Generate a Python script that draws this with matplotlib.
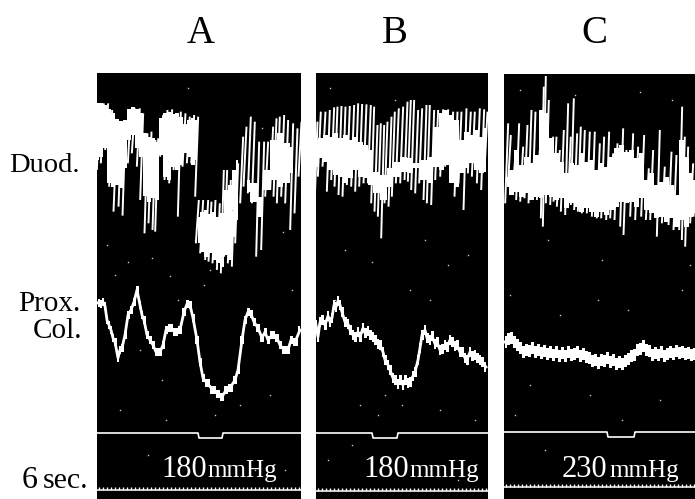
import numpy as np
import matplotlib
matplotlib.use("Agg")
import matplotlib.pyplot as plt

W, H = 695, 499
SERIF = ["Liberation Serif", "DejaVu Serif"]

a_spike_x = [25, 37, 50, 62, 75, 90, 102, 118, 130, 145, 155, 168, 180, 192, 200, 215, 228, 242, 255, 268, 282, 295, 308, 320,
             322, 335, 350, 360, 372, 385, 397, 407, 418, 430, 440, 455, 465, 478, 490, 503, 518, 530, 545, 555, 565, 578, 590, 605, 618, 630]
a_spike_top = [100, 100, 100, 120, 200, 160, 160, 120, 115, 115, 130, 190, 185, 210, 205, 135, 120, 118, 130, 125, 130, 140, 135, 140,
               390, 390, 390, 395, 390, 400, 300, 300, 330, 310, 280, 200, 170, 140, 155, 215, 215, 215, 170, 145, 140, 135, 150, 160, 175, 155]
a_spike_bot = [300, 280, 240, 350, 425, 410, 437, 280, 250, 290, 390, 490, 460, 480, 485, 260, 330, 340, 300, 440, 290, 280, 280, 380,
               520, 550, 570, 575, 580, 600, 610, 560, 580, 590, 520, 400, 350, 370, 400, 560, 540, 380, 360, 380, 400, 380, 400, 480, 430, 320]

b_spike_x = [18, 28, 42, 55, 68, 78, 90, 102, 115, 128, 140, 152, 165, 178, 188, 198, 208, 218, 228, 240, 250, 262, 275, 288, 298, 308,
             320, 332, 345, 355, 368, 380, 395, 410, 425, 438, 450, 465, 478, 490, 505, 518, 528]
b_spike_top = [155, 125, 125, 120, 112, 110, 108, 110, 108, 105, 100, 102, 103, 105, 110, 165, 160, 165, 155, 140, 125, 115, 110, 95, 90, 90,
               120, 115, 105, 105, 120, 120, 118, 118, 125, 125, 125, 115, 125, 125, 115, 118, 125]
b_spike_bot = [410, 320, 290, 365, 330, 350, 375, 380, 345, 350, 365, 350, 340, 340, 400, 425, 440, 505, 400, 410, 380, 340, 340, 330, 335, 360,
               370, 340, 390, 400, 405, 330, 320, 290, 330, 380, 340, 420, 310, 320, 340, 360, 300]

c_spike_x = [590, 598, 612, 623, 635, 648, 660, 672, 685, 697, 703, 712, 725, 735, 745, 757, 770, 778, 787, 797, 808, 820, 835, 850,
             865, 878, 893, 905, 918, 935, 945, 965, 980, 998, 1012, 1025, 1045, 1060, 1080, 1095, 1112, 1120, 1130, 1145, 1155]
c_spike_top = [160, 195, 250, 160, 230, 165, 120, 125, 240, 50, 18, 90, 200, 200, 240, 180, 100, 200, 85, 190, 170, 180, 185, 185,
               220, 200, 185, 250, 220, 175, 240, 190, 230, 195, 295, 240, 180, 290, 245, 255, 110, 200, 230, 280, 310]
c_spike_bot = [400, 350, 375, 390, 395, 385, 400, 390, 390, 445, 470, 400, 405, 395, 410, 425, 435, 400, 405, 420, 425, 430, 430, 440,
               445, 445, 450, 445, 450, 470, 495, 440, 450, 440, 450, 450, 500, 460, 465, 480, 480, 510, 530, 460, 440]

# Solid part of the duodenal trace, same crops
a_band_x = [22, 34, 46, 58, 70, 82, 94, 106, 118, 130, 142, 154, 166, 178, 190, 202, 214, 226, 238, 250, 262, 274, 286, 298, 310, 320]
a_band_top = [100, 98, 104, 118, 130, 148, 152, 150, 118, 112, 116, 128, 190, 200, 205, 215, 145, 130, 125, 132, 130, 140, 162, 150, 145, 150]
a_band_bot = [270, 262, 235, 340, 352, 345, 355, 295, 210, 195, 235, 262, 378, 395, 385, 390, 255, 320, 330, 290, 300, 285, 250, 260, 285, 270]
a_band2_x = [325, 337, 349, 361, 373, 385, 397, 409, 421, 433, 445]
a_band2_top = [440, 425, 420, 432, 425, 440, 430, 360, 345, 300, 270]
a_band2_bot = [520, 545, 560, 550, 570, 580, 590, 555, 570, 500, 450]
a_band3_x = [470, 490, 510, 530, 550, 570, 590, 610]
a_band3_top = [330, 340, 380, 300, 210, 190, 220, 230]
a_band3_bot = [365, 395, 440, 360, 330, 350, 340, 310]

b_band_x = [15, 30, 45, 60, 75, 90, 105, 120, 135, 150, 165, 180, 200, 220, 240, 260, 280, 300, 320, 340, 360, 380, 395, 410, 425, 440, 455, 470, 485, 500, 515, 528]
b_band_top = [210, 205, 195, 200, 190, 205, 195, 210, 200, 215, 225, 240, 305, 315, 295, 275, 260, 265, 280, 270, 260, 170, 130, 120, 135, 150, 210, 185, 195, 180, 200, 175]
b_band_bot = [290, 265, 275, 300, 315, 320, 340, 325, 300, 320, 325, 345, 370, 390, 350, 320, 305, 310, 295, 330, 340, 290, 300, 285, 340, 350, 310, 295, 280, 300, 310, 305]

c_band_x = [590, 605, 620, 635, 650, 665, 680, 695, 710, 725, 740, 755, 770, 785, 800, 815, 830, 845, 860, 875, 890, 905, 920, 935, 950,
            965, 980, 995, 1010, 1025, 1040, 1055, 1070, 1085, 1100, 1115, 1130, 1145, 1155]
c_band_top = [320, 300, 240, 285, 260, 280, 255, 120, 130, 205, 250, 275, 310, 280, 285, 250, 275, 270, 300, 280, 290, 260, 235, 225, 245,
              240, 265, 250, 330, 310, 345, 335, 320, 345, 375, 210, 260, 310, 330]
c_band_bot = [350, 375, 365, 380, 370, 390, 380, 385, 375, 380, 390, 385, 415, 400, 410, 425, 415, 425, 440, 425, 435, 420, 410, 395, 400,
              395, 410, 385, 420, 430, 445, 440, 455, 445, 470, 450, 470, 440, 430]

# Proximal colon trace, image pixels
a_col_x = [98, 101, 103, 105, 107, 109, 111, 113, 115, 118, 120, 122, 125, 128, 131, 134, 137, 140, 142, 144, 147, 150, 153, 156, 160, 163, 166,
           170, 175, 180, 184, 187, 190, 193, 197, 200, 203, 207, 213, 218, 222, 226, 230, 235, 238, 242, 245, 248, 251, 254, 258, 262, 265, 268,
           272, 277, 280, 284, 288, 291, 295, 300]
a_col_y = [303, 304, 302, 306, 320, 325, 330, 338, 342, 358, 350, 348, 335, 315, 310, 302, 290, 305, 315, 320, 335, 340, 345, 352, 352, 345, 330,
           328, 332, 330, 312, 304, 305, 318, 340, 362, 378, 383, 390, 394, 397, 390, 388, 380, 370, 340, 320, 312, 314, 322, 328, 338, 332, 340,
           335, 338, 345, 350, 350, 340, 342, 330]
b_col_x = [316, 318, 320, 322, 325, 328, 330, 332, 334, 336, 338, 340, 342, 345, 348, 350, 353, 355, 358, 360, 363, 365, 368, 370, 373, 375, 378, 380,
           383, 385, 388, 390, 393, 395, 398, 400, 403, 405, 408, 410, 413, 415, 418, 420, 422, 425, 427, 430, 432, 435, 437, 440, 442, 445, 447, 450,
           452, 455, 457, 460, 462, 465, 467, 470, 472, 475, 477, 480, 482, 486]
b_col_y = [325, 337, 322, 320, 325, 316, 322, 318, 305, 307, 301, 305, 312, 322, 324, 330, 335, 337, 332, 337, 328, 333, 331, 335, 337, 340, 344, 345,
           352, 360, 365, 370, 378, 380, 384, 380, 385, 380, 383, 382, 376, 372, 360, 348, 335, 330, 338, 340, 336, 344, 342, 350, 349, 345, 347, 340,
           342, 346, 345, 352, 352, 358, 360, 352, 356, 355, 358, 360, 362, 367]
c_col_x = [505, 508, 511, 514, 517, 520, 523, 526, 529, 532, 535, 538, 541, 544, 547, 550, 553, 556, 559, 562, 565, 568, 571, 574, 577, 580, 583, 586,
           589, 592, 595, 598, 601, 604, 607, 610, 613, 616, 619, 622, 625, 628, 631, 634, 637, 640, 643, 646, 649, 652, 655, 658, 661, 664, 667, 670,
           673, 676, 679, 682, 685, 688, 691, 695]
c_col_y = [342, 339, 338, 342, 345, 348, 352, 350, 351, 348, 352, 350, 353, 351, 354, 352, 355, 352, 356, 353, 356, 352, 355, 354, 352, 356, 354, 357,
           358, 361, 360, 363, 360, 361, 358, 362, 360, 364, 362, 364, 361, 359, 356, 355, 350, 349, 346, 350, 351, 355, 353, 355, 352, 356, 354, 352,
           354, 351, 353, 352, 354, 353, 355, 354]

# Stimulus marker: baseline level, dip level, dip start and end
a_mark = [433, 438, 198, 223]
b_mark = [433, 438, 372, 398]
c_mark = [432, 437, 607, 635]

# Time line level under each panel
a_time_y, b_time_y, c_time_y = 490, 491, 487

# Specks on the film
a_speck_x = [107, 128, 152, 170, 188, 210, 232, 250, 262, 283, 292, 115, 140, 162, 178, 204, 240, 270, 120, 148, 166, 215, 255, 285]
a_speck_y = [245, 262, 258, 276, 88, 270, 210, 135, 128, 232, 290, 275, 350, 380, 300, 285, 405, 395, 410, 455, 420, 415, 470, 470]
b_speck_x = [330, 345, 372, 395, 425, 448, 468, 335, 360, 385, 410, 440, 475, 328, 352, 378, 402, 430, 458]
b_speck_y = [88, 250, 262, 100, 240, 265, 255, 300, 405, 395, 290, 410, 420, 460, 445, 415, 405, 300, 480]
c_speck_x = [520, 548, 575, 602, 640, 672, 690, 510, 530, 560, 598, 628, 660, 682, 515, 545, 590, 622, 655]
c_speck_y = [90, 240, 95, 260, 92, 100, 265, 295, 385, 315, 300, 310, 400, 290, 415, 450, 395, 420, 470]

panel_titles = ["A", "B", "C"]
pressure_vals = ["180", "180", "230"]
pressure_unit = "mmHg"


def crop_x(vals):
    return 90 + np.array(vals) / 3


def crop_x_b(vals):
    return 310 + np.array(vals) / 3


def crop_y(vals):
    return 70 + np.array(vals) / 3


def draw_panel(x0, x1, top, to_x, sx, st, sb, bands, cx, cy, col_half, mark, time_y, spx, spy):
    ax = fig.add_axes([x0 / W, 0, (x1 - x0) / W, (H - top) / H], facecolor="black")
    ax.set_xlim(x0, x1)
    ax.set_ylim(H, top)
    ax.set_xticks([])
    ax.set_yticks([])
    for s in ax.spines.values():
        s.set_visible(False)

    for bx, bt, bb in bands:
        ax.fill_between(to_x(bx), crop_y(bt), crop_y(bb), color="white", lw=0, step="mid")
    # pen strokes lean to the right going up
    for x, t, b in zip(to_x(sx), crop_y(st), crop_y(sb)):
        ax.plot([x - 1.5, x + 1.5], [b, t], color="white", lw=1.4, solid_capstyle="butt")

    cy = np.array(cy)
    ax.fill_between(cx, cy - col_half, cy + col_half, color="white", lw=0, step="mid")
    ax.plot(cx, cy, color="white", lw=2.0)

    base, dip, d0, d1 = mark
    ax.plot([x0, d0, d0 + 1, d1 - 1, d1, x1], [base, base, dip, dip, base, base], color="white", lw=1.2)

    ax.plot([x0, x1], [time_y, time_y], color="white", lw=1.1)
    ax.vlines(range(x0 + 2, x1, 4), time_y - 3, time_y, color="white", lw=1.0)

    ax.plot(spx, spy, ls="none", marker="s", ms=1.0, mew=0, color="0.8")
    return ax


fig = plt.figure(figsize=(W / 100, H / 100), dpi=100, facecolor="white")

ax_a = draw_panel(97, 301, 73, crop_x, a_spike_x, a_spike_top, a_spike_bot,
                  [(a_band_x, a_band_top, a_band_bot), (a_band2_x, a_band2_top, a_band2_bot),
                   (a_band3_x, a_band3_top, a_band3_bot)],
                  a_col_x, a_col_y, 4, a_mark, a_time_y, a_speck_x, a_speck_y)
ax_b = draw_panel(316, 488, 73, crop_x_b, b_spike_x, b_spike_top, b_spike_bot,
                  [(b_band_x, b_band_top, b_band_bot)],
                  b_col_x, b_col_y, 5, b_mark, b_time_y, b_speck_x, b_speck_y)
ax_c = draw_panel(504, 695, 74, crop_x_b, c_spike_x, c_spike_top, c_spike_bot,
                  [(c_band_x, c_band_top, c_band_bot)],
                  c_col_x, c_col_y, 6, c_mark, c_time_y, c_speck_x, c_speck_y)


def ftext(x, y, s, size, color="black", ha="left", weight="normal"):
    fig.text(x / W, 1 - y / H, s, fontsize=size, color=color, ha=ha, va="baseline",
             family=SERIF, weight=weight)


for x, s in zip([201, 395, 594], panel_titles):
    ftext(x, 43, s, 28, ha="center")

ftext(9, 172, "Duod.", 20.5)
ftext(80, 311, "Prox.", 21, ha="right")
ftext(82, 338, "Col.", 21, ha="right")
ftext(22, 488, "6", 23)
ftext(43, 488, "sec.", 21.5)

for x, s in zip([161, 363, 562], pressure_vals):
    ftext(x, 477, s, 22, color="white")
for x, s in zip([207, 409, 609], pressure_vals):
    ftext(x, 477, pressure_unit, 18, color="white")

fig.savefig("out.png", dpi=100)
